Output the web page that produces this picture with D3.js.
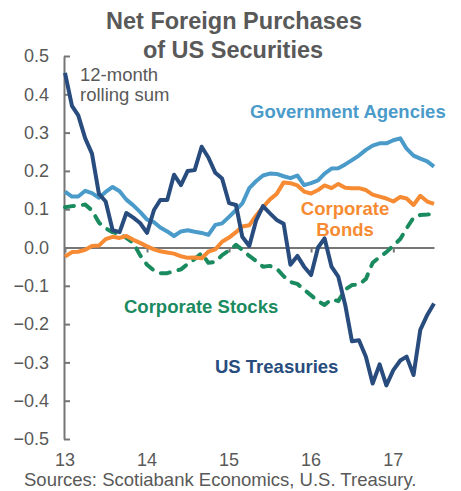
<!DOCTYPE html>
<html>
<head>
<meta charset="utf-8">
<script src="https://cdn.jsdelivr.net/npm/d3@7"></script>
<style>
  body { margin: 0; background: #fff; }
  svg { font-family: Arial, "Liberation Sans", sans-serif; }
</style>
</head>
<body>
<div id="chart"></div>
<script>
// monthly observations, Jan 2013 .. Jul 2017 (12-month rolling sums, US$ tn)
var startMonth = new Date(2013, 0, 1),
    endMonth = new Date(2017, 6, 1);
var months = d3.timeMonth.range(startMonth, d3.timeMonth.offset(endMonth, 1));

var treasuries = [0.456, 0.37, 0.345, 0.285, 0.245, 0.14, 0.12, 0.045, 0.04, 0.09,
  0.078, 0.064, 0.038, 0.098, 0.124, 0.124, 0.19, 0.163, 0.2, 0.202,
  0.263, 0.235, 0.195, 0.18, 0.116, 0.111, 0.028, 0.004, 0.07, 0.108,
  0.09, 0.072, 0.062, -0.045, -0.022, -0.05, -0.072, 0.0, 0.024, -0.05,
  -0.076, -0.15, -0.245, -0.242, -0.285, -0.355, -0.305, -0.36, -0.32, -0.295,
  -0.285, -0.333, -0.215, -0.176, -0.146];

var agencies = [0.146, 0.133, 0.133, 0.148, 0.142, 0.13, 0.145, 0.158, 0.147, 0.125,
  0.11, 0.093, 0.073, 0.066, 0.052, 0.042, 0.03, 0.042, 0.045, 0.041,
  0.038, 0.033, 0.059, 0.063, 0.08, 0.098, 0.115, 0.155, 0.173, 0.188,
  0.193, 0.192, 0.186, 0.181, 0.188, 0.163, 0.168, 0.175, 0.193, 0.206,
  0.207, 0.217, 0.228, 0.24, 0.255, 0.266, 0.272, 0.272, 0.28, 0.285,
  0.258, 0.24, 0.232, 0.225, 0.211];

var corpBonds = [-0.024, -0.012, -0.011, -0.006, 0.004, 0.005, 0.022, 0.028, 0.025, 0.03,
  0.02, 0.012, 0.003, -0.005, -0.01, -0.013, -0.016, -0.023, -0.027, -0.026,
  -0.028, -0.011, -0.005, 0.015, 0.026, 0.04, 0.055, 0.058, 0.083, 0.105,
  0.125, 0.14, 0.17, 0.168, 0.162, 0.146, 0.141, 0.15, 0.162, 0.155,
  0.166, 0.156, 0.155, 0.155, 0.15, 0.138, 0.133, 0.128, 0.12, 0.132,
  0.128, 0.111, 0.135, 0.12, 0.114];

var corpStocks = [0.105, 0.108, 0.11, 0.112, 0.097, 0.065, 0.05, 0.04, 0.035, 0.025,
  0.012, -0.02, -0.045, -0.06, -0.067, -0.067, -0.062, -0.057, -0.043, -0.03,
  -0.015, -0.04, -0.038, -0.02, -0.008, 0.007, -0.006, -0.022, -0.035, -0.05,
  -0.048, -0.055, -0.075, -0.09, -0.095, -0.11, -0.125, -0.14, -0.15, -0.135,
  -0.14, -0.11, -0.098, -0.097, -0.082, -0.04, -0.025, -0.012, 0.005, 0.022,
  0.05, 0.078, 0.085, 0.086, 0.088];

var yTicks = [-0.5, -0.4, -0.3, -0.2, -0.1, 0, 0.1, 0.2, 0.3, 0.4, 0.5];
var yearTicks = [2013, 2014, 2015, 2016, 2017];
var yearLabels = ["13", "14", "15", "16", "17"];

var width = 461, height = 491;
var plot = { left: 64, right: 434, top: 56, bottom: 439 };

var svg = d3.select("#chart").append("svg")
  .attr("width", width)
  .attr("height", height);

var x = d3.scaleTime()
  .domain([startMonth, endMonth])
  .range([plot.left + 1, plot.right]);

var y = d3.scaleLinear()
  .domain([-0.5, 0.5])
  .range([plot.bottom, plot.top]);

var textGray = "#595959", axisGray = "#767676";
var fontSize = "18.5px";

// Title
svg.append("text")
  .attr("x", 234).attr("y", 29)
  .attr("text-anchor", "middle")
  .style("font-size", "23.5px").style("font-weight", "bold")
  .attr("fill", textGray)
  .text("Net Foreign Purchases");
svg.append("text")
  .attr("x", 233).attr("y", 58)
  .attr("text-anchor", "middle")
  .style("font-size", "23.5px").style("font-weight", "bold")
  .attr("fill", textGray)
  .text("of US Securities");

// Y axis (ticks point inward)
var yAxis = svg.append("g")
  .attr("transform", "translate(" + plot.left + ",0)")
  .call(d3.axisLeft(y).tickValues(yTicks)
    .tickSizeInner(-6).tickSizeOuter(0).tickPadding(15)
    .tickFormat(d3.format(".1f")));
yAxis.select(".domain").attr("stroke", axisGray).attr("stroke-width", 2);
yAxis.selectAll(".tick line").attr("stroke", axisGray).attr("stroke-width", 2);
yAxis.selectAll(".tick text")
  .attr("fill", textGray)
  .style("font-size", "18px")
  .style("font-family", "Arial, 'Liberation Sans', sans-serif");

// X axis along zero line
var xAxis = svg.append("g")
  .attr("transform", "translate(0," + y(0) + ")")
  .call(d3.axisBottom(x)
    .tickValues(yearTicks.map(function(yr) { return new Date(yr, 0, 1); }))
    .tickSize(5).tickSizeOuter(0).tickFormat(""));
xAxis.select(".domain").attr("stroke", axisGray).attr("stroke-width", 2);
xAxis.selectAll(".tick line").attr("stroke", axisGray).attr("stroke-width", 2);

// Year labels at bottom
svg.selectAll(".yearlabel")
  .data(yearTicks)
  .enter().append("text")
  .attr("class", "yearlabel")
  .attr("x", function(d) { return x(new Date(d, 0, 1)); })
  .attr("y", 465.5)
  .attr("text-anchor", "middle")
  .attr("fill", textGray)
  .style("font-size", "18px")
  .text(function(d, i) { return yearLabels[i]; });

// Series
var series = [
  { name: "Corporate Stocks", values: corpStocks, color: "#1a8a5f", dash: "9,9" },
  { name: "Corporate Bonds", values: corpBonds, color: "#f68b33", dash: null },
  { name: "Government Agencies", values: agencies, color: "#4a9bca", dash: null },
  { name: "US Treasuries", values: treasuries, color: "#284c7e", dash: null }
];

var line = d3.line()
  .x(function(d, i) { return x(months[i]); })
  .y(function(d) { return y(d); });

svg.selectAll(".series")
  .data(series)
  .enter().append("path")
  .attr("class", "series")
  .attr("d", function(d) { return line(d.values); })
  .attr("fill", "none")
  .attr("stroke", function(d) { return d.color; })
  .attr("stroke-width", 4)
  .attr("stroke-linejoin", "round")
  .attr("stroke-linecap", function(d) { return d.dash ? "round" : "butt"; })
  .attr("stroke-dasharray", function(d) { return d.dash; });

// Annotations
svg.append("text")
  .attr("x", 80).attr("y", 81)
  .attr("fill", textGray).style("font-size", fontSize)
  .text("12-month");
svg.append("text")
  .attr("x", 80).attr("y", 101)
  .attr("fill", textGray).style("font-size", fontSize)
  .text("rolling sum");

var labels = [
  { text: "Government Agencies", x: 250, y: 118, anchor: "start", color: "#4a9bca" },
  { text: "Corporate", x: 345, y: 215, anchor: "middle", color: "#f68b33" },
  { text: "Bonds", x: 345, y: 236, anchor: "middle", color: "#f68b33" },
  { text: "Corporate Stocks", x: 124, y: 313, anchor: "start", color: "#1a8a5f" },
  { text: "US Treasuries", x: 215, y: 373, anchor: "start", color: "#284c7e" }
];
svg.selectAll(".serieslabel")
  .data(labels)
  .enter().append("text")
  .attr("class", "serieslabel")
  .attr("x", function(d) { return d.x; })
  .attr("y", function(d) { return d.y; })
  .attr("text-anchor", function(d) { return d.anchor; })
  .attr("fill", function(d) { return d.color; })
  .style("font-size", fontSize).style("font-weight", "bold")
  .text(function(d) { return d.text; });

// Source
svg.append("text")
  .attr("x", 24).attr("y", 486)
  .attr("fill", textGray).style("font-size", fontSize)
  .text("Sources: Scotiabank Economics, U.S. Treasury.");
</script>
</body>
</html>
